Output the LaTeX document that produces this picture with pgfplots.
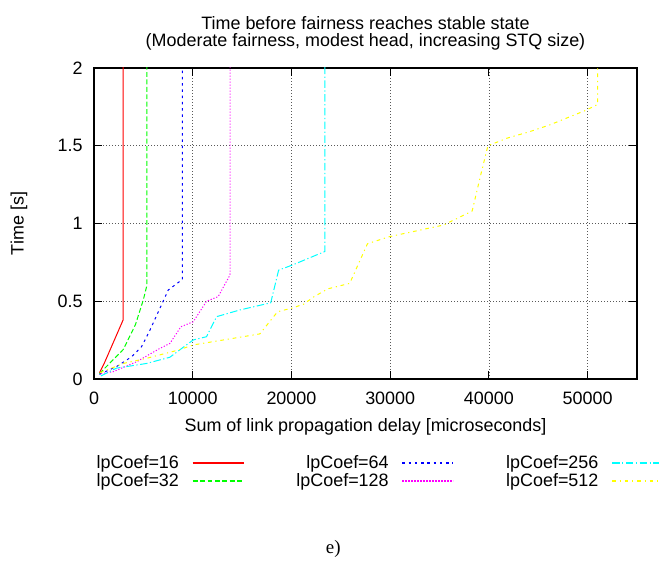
\documentclass[border=0pt]{standalone}
\usepackage{fontspec}
\setmainfont{Liberation Sans}
\newfontfamily\seriffont{Liberation Serif}
\usepackage{pgfplots}
\pgfplotsset{compat=1.18}
\definecolor{gpred}{RGB}{255,0,0}
\definecolor{gpgreen}{RGB}{0,255,0}
\definecolor{gpblue}{RGB}{0,0,255}
\definecolor{gpmagenta}{RGB}{255,0,255}
\definecolor{gpcyan}{RGB}{0,255,255}
\definecolor{gpyellow}{RGB}{255,255,0}
\newcommand\gp{\fontsize{18}{16.7}\selectfont}
\begin{document}
\begin{tikzpicture}
\path[use as bounding box] (0,0) rectangle (659bp,561bp);
\begin{axis}[
  at={(94bp,182bp)}, anchor=south west,
  scale only axis, width=543bp, height=311bp,
  xmin=0, xmax=55000, ymin=0, ymax=2,
  xtick={0,10000,20000,30000,40000,50000},
  ytick={0,0.5,1,1.5,2},
  scaled x ticks=false,
  /pgf/number format/assume math mode=true,
  xticklabel style={/pgf/number format/fixed, /pgf/number format/1000 sep={}, anchor=north, inner sep=0pt, yshift=-12.7bp},
  yticklabel style={anchor=east, inner sep=0pt, xshift=-11.3bp},
  tick label style={font=\gp},
  tick align=inside, xtick pos=both, ytick pos=both,
  major tick length=8bp,
  tick style={black, line width=0.9bp},
  axis line style={black, line width=1.3bp},
  grid=major,
  major grid style={black!65, line width=0.8bp, dash pattern=on 1.2bp off 1.8bp},
  title={Time before fairness reaches stable state\\(Moderate fairness, modest head, increasing STQ size)},
  title style={font=\gp, align=center, at={(0.5,1)}, anchor=south, inner sep=0pt, yshift=11.5bp},
  xlabel={Sum of link propagation delay [microseconds]},
  xlabel style={at={(axis description cs:0.5,-0.1704)}, anchor=base, font=\gp, inner sep=0pt},
  ylabel={Time [s]},
  ylabel style={at={(axis description cs:-0.1298,0.5)}, anchor=base, font=\gp, inner sep=0pt},
  legend columns=3,
  legend plot pos=right,
  legend cell align=right,
  legend style={draw=none, fill=white, font=\gp, at={(0.0046,-0.2415)}, anchor=north west,
    inner sep=0pt, row sep=0pt,
    nodes={inner sep=0pt, text height=14.2bp, text depth=4bp},
    /tikz/every odd column/.append style={column sep=13bp},
    /tikz/every even column/.append style={column sep=52bp}},
  legend image code/.code={\draw[line cap=butt, #1, line width=1.5bp] (0bp,0.4bp) -- (51bp,0.4bp);},
]
\addplot[color=gpred, solid, line width=1bp, forget plot] coordinates {(560,0.04) (1100,0.11) (2950,0.38) (2950,2.5)};
\addplot[color=gpgreen, line width=1bp, dash pattern=on 4.9bp off 2.5bp, forget plot] coordinates {(560,0.035) (2970,0.19) (4200,0.35) (5000,0.51) (5350,0.6) (5350,2.5)};
\addplot[color=gpblue, line width=1bp, dash pattern=on 2.5bp off 3.75bp, forget plot] coordinates {(560,0.03) (2290,0.08) (3810,0.143) (4820,0.208) (5670,0.315) (6680,0.455) (7520,0.572) (8950,0.64) (8950,2.5)};
\addplot[color=gpmagenta, line width=1bp, dash pattern=on 1.2bp off 1.8bp, forget plot] coordinates {(700,0.035) (1950,0.047) (4320,0.111) (5330,0.148) (6680,0.197) (7690,0.229) (8800,0.336) (10050,0.368) (11400,0.5) (12580,0.53) (13700,0.66) (13800,0.68) (13800,2.5)};
\addplot[color=gpcyan, line width=1bp, dash pattern=on 7.5bp off 2.5bp on 1.25bp off 2.5bp, forget plot] coordinates {(700,0.02) (2290,0.07) (5330,0.1) (7690,0.14) (9040,0.204) (10050,0.251) (11400,0.272) (12420,0.401) (14780,0.444) (17900,0.49) (18700,0.7) (20100,0.733) (23380,0.82) (23380,2.5)};
\addplot[color=gpyellow, line width=1bp, dash pattern=on 3.75bp off 3.75bp on 1.25bp off 3.75bp, forget plot] coordinates {(600,0.04) (2970,0.1) (5330,0.133) (8540,0.186) (10050,0.219) (16800,0.29) (18600,0.433) (20000,0.455) (21200,0.48) (22300,0.53) (23700,0.58) (25900,0.615) (27700,0.87) (29900,0.915) (35400,0.99) (38300,1.08) (39200,1.32) (39900,1.5) (41900,1.55) (44100,1.59) (46200,1.635) (49900,1.73) (51000,1.765) (51000,2.5)};
\addlegendimage{color=gpred, solid}
\addlegendimage{color=gpblue, dash pattern=on 2.5bp off 3.75bp}
\addlegendimage{color=gpcyan, dash pattern=on 7.5bp off 2.5bp on 1.25bp off 2.5bp}
\addlegendimage{color=gpgreen, dash pattern=on 4.9bp off 2.5bp}
\addlegendimage{color=gpmagenta, dash pattern=on 1.2bp off 1.8bp}
\addlegendimage{color=gpyellow, dash pattern=on 3.75bp off 3.75bp on 1.25bp off 3.75bp}
\legend{lpCoef=16, lpCoef=64, lpCoef=256, lpCoef=32, lpCoef=128, lpCoef=512}
\end{axis}
\node[font=\seriffont\fontsize{19}{19}\selectfont, anchor=base, inner sep=0pt] at (333.3bp,8bp) {e)};
\end{tikzpicture}
\end{document}
